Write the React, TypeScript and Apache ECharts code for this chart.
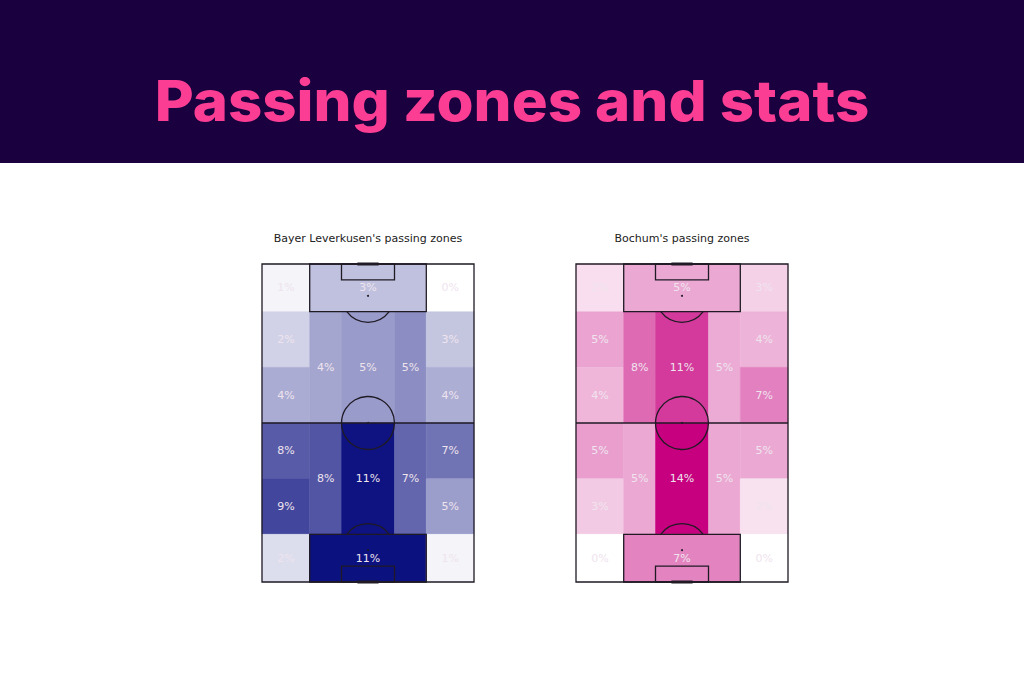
import React, { useEffect, useRef } from "react";
import * as echarts from "echarts";

// Zones of the pitch (juego de posición layout), top (attacking end) to bottom
const ZONE_NAMES = [
  "Final third left wing", "Opponent box", "Final third right wing",
  "Attacking left wing high", "Attacking left wing low", "Attacking left half-space",
  "Attacking centre", "Attacking right half-space", "Attacking right wing high", "Attacking right wing low",
  "Defensive left wing high", "Defensive left wing low", "Defensive left half-space",
  "Defensive centre", "Defensive right half-space", "Defensive right wing high", "Defensive right wing low",
  "Own third left wing", "Own box", "Own third right wing",
];

// Zone bounds in pitch units: [width from, width to, length from, length to]
const ZONE_BOUNDS: [number, number, number, number][] = [
  [0, 18, 102, 120], [18, 62, 102, 120], [62, 80, 102, 120],
  [0, 18, 81, 102], [0, 18, 60, 81], [18, 30, 60, 102],
  [30, 50, 60, 102], [50, 62, 60, 102], [62, 80, 81, 102], [62, 80, 60, 81],
  [0, 18, 39, 60], [0, 18, 18, 39], [18, 30, 18, 60],
  [30, 50, 18, 60], [50, 62, 18, 60], [62, 80, 39, 60], [62, 80, 18, 39],
  [0, 18, 0, 18], [18, 62, 0, 18], [62, 80, 0, 18],
];

// Share of passes (%) per zone
const leverkusenShare = [
  0.5, 2.9, 0.0,
  2.1, 3.9, 4.2, 4.7, 5.3, 2.7, 3.8,
  7.7, 8.7, 8.0, 11.1, 7.2, 6.6, 4.6,
  1.6, 11.2, 0.5,
];
const bochumShare = [
  1.8, 4.8, 2.5,
  5.0, 4.0, 8.2, 10.8, 4.6, 4.2, 7.0,
  5.3, 2.9, 4.8, 14.0, 4.8, 4.8, 1.6,
  0.0, 6.8, 0.0,
];

const TEAM_TITLES = ["Bayer Leverkusen's passing zones", "Bochum's passing zones"];
const PAGE_TITLE = "Passing zones and stats";

const LINE = "#1f1a24";

function zoneData(values: number[]) {
  return ZONE_BOUNDS.map((b, i) => ({ name: ZONE_NAMES[i], value: [b[0], b[1], b[2], b[3], values[i]] }));
}

function renderZone(params: any, api: any) {
  const x0 = api.value(0), x1 = api.value(1), y0 = api.value(2), y1 = api.value(3), v = api.value(4);
  const p0 = api.coord([x0, y1]);
  const p1 = api.coord([x1, y0]);
  const color = api.visual("color");
  return {
    type: "group",
    children: [
      {
        type: "rect",
        shape: { x: p0[0], y: p0[1], width: p1[0] - p0[0], height: p1[1] - p0[1] },
        style: { fill: color, stroke: color, lineWidth: 0.5 },
      },
      {
        type: "text",
        x: (p0[0] + p1[0]) / 2,
        y: (p0[1] + p1[1]) / 2,
        style: {
          text: Math.round(v) + "%",
          fill: "#efe4ee",
          fontSize: 11,
          fontFamily: "DejaVu Sans",
          align: "center",
          verticalAlign: "middle",
        },
      },
    ],
  };
}

function renderPitch(params: any, api: any) {
  const c = (x: number, y: number) => api.coord([x, y]);
  const unit = api.size([1, 0])[0];
  const st = { fill: null, stroke: LINE, lineWidth: 1.3 };
  const rect = (x0: number, x1: number, y0: number, y1: number) => {
    const a = c(x0, y1), b = c(x1, y0);
    return { type: "rect", shape: { x: a[0], y: a[1], width: b[0] - a[0], height: b[1] - a[1] }, style: st };
  };
  const line = (x0: number, y0: number, x1: number, y1: number, w = 1.3) => {
    const a = c(x0, y0), b = c(x1, y1);
    return { type: "line", shape: { x1: a[0], y1: a[1], x2: b[0], y2: b[1] }, style: { stroke: LINE, lineWidth: w } };
  };
  const dot = (x: number, y: number) => {
    const a = c(x, y);
    return { type: "circle", shape: { cx: a[0], cy: a[1], r: 1 }, style: { fill: LINE } };
  };
  const mid = c(40, 60);
  const top = c(40, 108);
  const bot = c(40, 12);
  const ang = Math.asin(0.6);
  return {
    type: "group",
    children: [
      rect(0, 80, 0, 120),
      line(0, 60, 80, 60),
      { type: "circle", shape: { cx: mid[0], cy: mid[1], r: 10 * unit }, style: st },
      dot(40, 60),
      rect(18, 62, 102, 120),
      rect(30, 50, 114, 120),
      line(36, 120, 44, 120, 3),
      dot(40, 108),
      { type: "arc", shape: { cx: top[0], cy: top[1], r: 10 * unit, startAngle: ang, endAngle: Math.PI - ang, clockwise: true }, style: st },
      rect(18, 62, 0, 18),
      rect(30, 50, 0, 6),
      line(36, 0, 44, 0, 3),
      dot(40, 12),
      { type: "arc", shape: { cx: bot[0], cy: bot[1], r: 10 * unit, startAngle: Math.PI + ang, endAngle: 2 * Math.PI - ang, clockwise: true }, style: st },
    ],
  };
}

export default function App() {
  const ref = useRef<HTMLDivElement>(null);
  useEffect(() => {
    document.body.style.margin = "0";
    const chart = echarts.init(ref.current!, undefined, { renderer: "svg" });
    const grids = [
      { left: 262, top: 264, width: 212, height: 318 },
      { left: 576, top: 264, width: 212, height: 318 },
    ];
    const axisCommon = { type: "value", show: false, splitLine: { show: false } } as any;
    chart.setOption({
      animation: false,
      backgroundColor: "#ffffff",
      grid: grids,
      xAxis: grids.map((_, i) => ({ ...axisCommon, gridIndex: i, min: 0, max: 80 })),
      yAxis: grids.map((_, i) => ({ ...axisCommon, gridIndex: i, min: 0, max: 120 })),
      visualMap: [
        {
          type: "continuous", show: false, seriesIndex: 0, dimension: 4,
          min: 0, max: Math.max(...leverkusenShare),
          inRange: { color: ["#ffffff", "#0c1180"] },
        },
        {
          type: "continuous", show: false, seriesIndex: 2, dimension: 4,
          min: 0, max: Math.max(...bochumShare),
          inRange: { color: ["#ffffff", "#c6007e"] },
        },
      ],
      graphic: [
        { type: "rect", left: 0, top: 0, shape: { width: 1024, height: 163 }, style: { fill: "#1b0040" } },
        {
          type: "text", x: 512, y: 101, scaleX: 1.07, originX: 0, originY: 0,
          style: {
            text: PAGE_TITLE, fill: "#fc3d94", fontSize: 56, fontWeight: 800,
            fontFamily: "Inter", align: "center", verticalAlign: "middle",
          },
        },
        {
          type: "text", x: 368, y: 238,
          style: { text: TEAM_TITLES[0], fill: "#222222", fontSize: 11, fontFamily: "DejaVu Sans", align: "center", verticalAlign: "middle" },
        },
        {
          type: "text", x: 682, y: 238,
          style: { text: TEAM_TITLES[1], fill: "#222222", fontSize: 11, fontFamily: "DejaVu Sans", align: "center", verticalAlign: "middle" },
        },
      ],
      series: [
        { type: "custom", xAxisIndex: 0, yAxisIndex: 0, data: zoneData(leverkusenShare), renderItem: renderZone, clip: false },
        { type: "custom", xAxisIndex: 0, yAxisIndex: 0, data: [[40, 60]], renderItem: renderPitch, clip: false, z: 5 },
        { type: "custom", xAxisIndex: 1, yAxisIndex: 1, data: zoneData(bochumShare), renderItem: renderZone, clip: false },
        { type: "custom", xAxisIndex: 1, yAxisIndex: 1, data: [[40, 60]], renderItem: renderPitch, clip: false, z: 5 },
      ],
    });
    return () => chart.dispose();
  }, []);
  return <div ref={ref} style={{ width: 1024, height: 683 }} />;
}
